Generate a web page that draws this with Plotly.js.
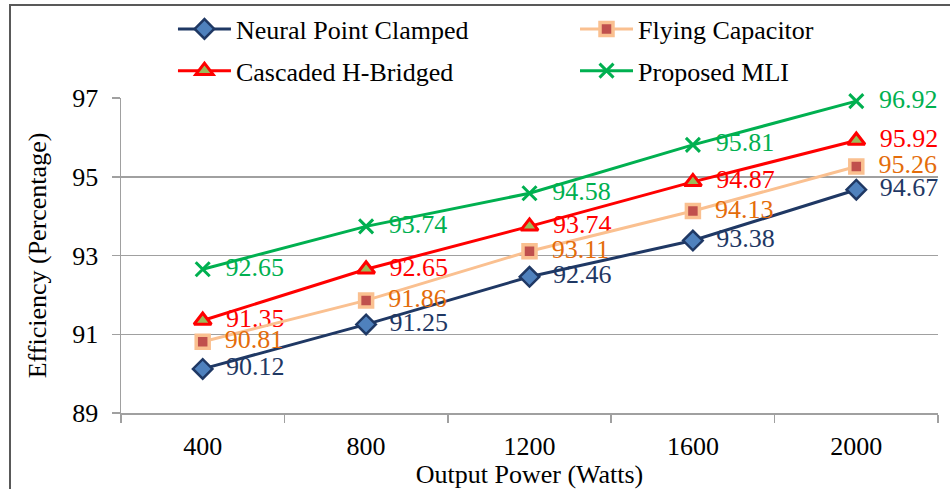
<!DOCTYPE html>
<html>
<head>
<meta charset="utf-8">
<script src="https://cdn.plot.ly/plotly-3.0.1.min.js"></script>
<style>
  html, body { margin: 0; padding: 0; background: #fff; }
  #wrap { position: relative; width: 950px; height: 489px; overflow: hidden; }
  #chart { width: 950px; height: 489px; }
  /* frame of the chart area (top and left edges) */
  #frame { position: absolute; left: 9px; top: 4px; width: 960px; height: 500px;
           border-top: 2px solid #595959; border-left: 2px solid #595959; pointer-events: none; }
</style>
</head>
<body>
<div id="wrap">
  <div id="chart"></div>
  <div id="frame"></div>
</div>
<script>
// Output power categories (W)
const powers = ['400', '800', '1200', '1600', '2000'];

// Efficiency (%) of each inverter topology
const npc = [90.12, 91.25, 92.46, 93.38, 94.67];   // Neural Point Clamped
const fc  = [90.81, 91.86, 93.11, 94.13, 95.26];   // Flying Capacitor
const chb = [91.35, 92.65, 93.74, 94.87, 95.92];   // Cascaded H-Bridged
const mli = [92.65, 93.74, 94.58, 95.81, 96.92];   // Proposed MLI

const yTicks = [89, 91, 93, 95, 97];

const FONT = 'Liberation Serif';
const FS = 26;

function series(name, y, lineColor, textColor, marker, legendId) {
  return {
    type: 'scatter',
    mode: 'lines+markers+text',
    name: name,
    legend: legendId,
    legendgroup: name,
    x: powers,
    y: y,
    line: { color: lineColor, width: 3 },
    marker: marker,
    texttemplate: '\u00a0\u00a0%{y:.2f}',
    textposition: 'middle right',
    textfont: { family: FONT, size: FS, color: textColor },
    cliponaxis: false,
    hoverinfo: 'x+y'
  };
}

const traces = [
  series('Neural Point Clamped', npc, '#1F3864', '#1F3864',
    { symbol: 'diamond', size: 15, color: '#4F81BD', line: { color: '#1F3864', width: 2.5 } }, 'legend'),
  series('Cascaded H-Bridged', chb, '#FF0000', '#FF0000',
    { symbol: 'triangle-up', size: 15, color: '#9BBB59', line: { color: '#FF0000', width: 3 } }, 'legend'),
  series('Flying Capacitor', fc, '#FAC090', '#E46C0A',
    { symbol: 'square', size: 13, color: '#C0504D', line: { color: '#FAC090', width: 3.5 } }, 'legend2'),
  series('Proposed MLI', mli, '#00B050', '#00B050',
    { symbol: 'x-thin', size: 14, color: '#00B050', line: { color: '#00B050', width: 3 } }, 'legend2')
];

function legendBox(x) {
  return {
    orientation: 'v',
    x: x, xanchor: 'left',
    y: 1.2937, yanchor: 'top',
    itemwidth: 53,
    tracegroupgap: 5,
    traceorder: 'grouped',
    font: { family: FONT, size: FS, color: '#000000' },
    bgcolor: 'rgba(0,0,0,0)',
    borderwidth: 0
  };
}

const layout = {
  width: 950,
  height: 489,
  margin: { l: 121, r: 12, t: 98, b: 75.5, pad: 0, autoexpand: false },
  paper_bgcolor: '#ffffff',
  plot_bgcolor: '#ffffff',
  font: { family: FONT, size: FS, color: '#000000' },
  showlegend: true,
  legend: legendBox(0.0636),
  legend2: legendBox(0.5557),
  xaxis: {
    type: 'category',
    range: [-0.5, 4.5],
    tickson: 'boundaries',
    ticks: 'outside',
    ticklen: 8,
    tickwidth: 1.5,
    tickcolor: '#A0A0A0',
    ticklabelstandoff: 9,
    showline: true,
    linecolor: '#A0A0A0',
    linewidth: 1.5,
    showgrid: false,
    zeroline: false,
    tickfont: { family: FONT, size: FS, color: '#000000' },
    title: { text: 'Output Power (Watts)', font: { family: FONT, size: FS, color: '#000000' }, standoff: 4 }
  },
  yaxis: {
    range: [89, 97],
    tickmode: 'array',
    tickvals: yTicks,
    ticktext: yTicks.map(String),
    ticks: 'outside',
    ticklen: 8,
    tickwidth: 1.5,
    tickcolor: '#A0A0A0',
    ticklabelstandoff: 8,
    showline: true,
    linecolor: '#A0A0A0',
    linewidth: 1.5,
    showgrid: true,
    gridcolor: '#A0A0A0',
    gridwidth: 1.5,
    zeroline: false,
    tickfont: { family: FONT, size: FS, color: '#000000' },
    title: { text: 'Efficiency (Percentage)', font: { family: FONT, size: FS, color: '#000000' }, standoff: 18 }
  }
};

Plotly.newPlot('chart', traces, layout, { displayModeBar: false, staticPlot: true });
</script>
</body>
</html>
